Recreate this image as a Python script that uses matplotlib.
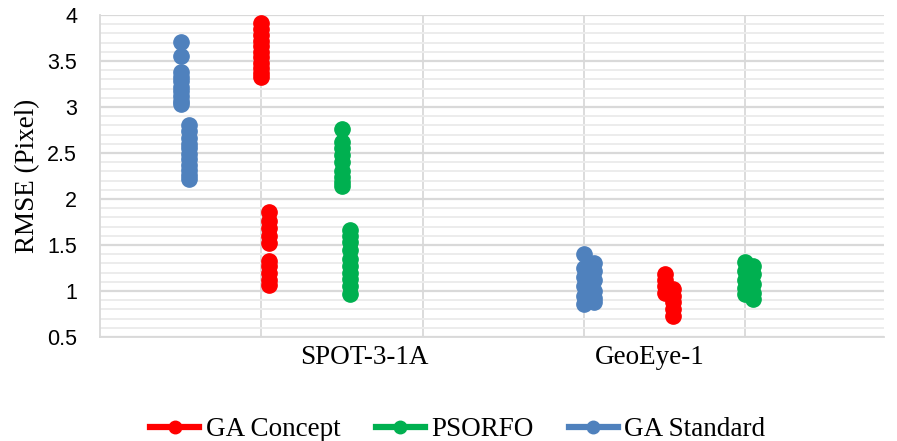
import matplotlib
matplotlib.use("Agg")
import matplotlib.pyplot as plt
from matplotlib.lines import Line2D
from matplotlib.ticker import MultipleLocator

# ---- data ----
categories = ["SPOT-3-1A", "GeoEye-1"]
category_label_x = [1.64, 3.41]

series_names = ["GA Concept", "PSORFO", "GA Standard"]
series_colors = ["#ff0000", "#00b050", "#4f81bd"]

# GA Standard
std_x = [0.50] * 10 + [0.55] * 11 + [3.00] * 6 + [3.06] * 6
std_y = [3.71, 3.55, 3.38, 3.33, 3.28, 3.22, 3.17, 3.12, 3.07, 3.03,
         2.80, 2.74, 2.66, 2.60, 2.55, 2.49, 2.43, 2.37, 2.31, 2.26, 2.22,
         1.40, 1.25, 1.15, 1.05, 0.95, 0.86,
         1.30, 1.22, 1.12, 1.00, 0.92, 0.88]

# GA Concept
con_x = [1.00] * 11 + [1.05] * 10 + [3.50] * 4 + [3.55] * 5
con_y = [3.91, 3.85, 3.78, 3.72, 3.66, 3.60, 3.54, 3.48, 3.42, 3.37, 3.33,
         1.86, 1.76, 1.68, 1.60, 1.52, 1.33, 1.27, 1.20, 1.12, 1.06,
         1.19, 1.12, 1.05, 0.98,
         1.02, 0.95, 0.88, 0.80, 0.73]

# PSORFO
pso_x = [1.50] * 9 + [1.55] * 10 + [4.00] * 5 + [4.05] * 5
pso_y = [2.76, 2.62, 2.55, 2.48, 2.40, 2.30, 2.24, 2.18, 2.14,
         1.66, 1.60, 1.53, 1.45, 1.35, 1.27, 1.20, 1.13, 1.05, 0.97,
         1.31, 1.22, 1.12, 1.03, 0.97,
         1.27, 1.18, 1.08, 0.98, 0.91]

y_ticks = [0.5, 1, 1.5, 2, 2.5, 3, 3.5, 4]
y_tick_labels = ["0.5", "1", "1.5", "2", "2.5", "3", "3.5", "4"]

# ---- figure ----
fig = plt.figure(figsize=(8.97, 4.41), dpi=100)
ax = fig.add_axes([100 / 897, (441 - 337) / 441, (884 - 100) / 897, (337 - 15) / 441])

ax.set_xlim(0, 4.86)
ax.set_ylim(0.5, 4)

# grid
ax.yaxis.set_minor_locator(MultipleLocator(0.1))
ax.set_yticks(y_ticks)
ax.set_yticklabels(y_tick_labels, family="Liberation Sans", fontsize=15.5)
ax.set_xticks([1, 2, 3, 4])
ax.set_xticklabels([])
ax.grid(which="major", axis="y", color="#d9d9d9", linewidth=1.6, zorder=0)
ax.grid(which="minor", axis="y", color="#ececec", linewidth=1.4, zorder=0)
ax.grid(which="major", axis="x", color="#d9d9d9", linewidth=1.3, zorder=0)
ax.tick_params(axis="both", which="both", length=0)
ax.tick_params(axis="y", pad=16.5)
ax.set_axisbelow(True)
for s in ["top", "right"]:
    ax.spines[s].set_visible(False)
for s in ["left", "bottom"]:
    ax.spines[s].set_color("#d9d9d9")
    ax.spines[s].set_linewidth(1.3)

ms = 11
ax.plot(std_x, std_y, "o", color=series_colors[2], markersize=ms, zorder=3)
ax.plot(con_x, con_y, "o", color=series_colors[0], markersize=ms, zorder=3)
ax.plot(pso_x, pso_y, "o", color=series_colors[1], markersize=ms, zorder=3)

for lab, xx in zip(categories, category_label_x):
    ax.text(xx, -0.064, lab, transform=ax.get_xaxis_transform(), ha="center", va="center",
            family="Liberation Serif", fontsize=19.5)

ax.set_ylabel("RMSE (Pixel)", family="Liberation Serif", fontsize=19.5, labelpad=5)

handles = [Line2D([0], [0], color=c, linewidth=4.5, marker="o", markersize=9)
           for c in series_colors]
fig.legend(handles, series_names, loc="center", bbox_to_anchor=(458 / 897, 1 - 430 / 441),
           ncol=3, frameon=False, prop={"family": "Liberation Serif", "size": 19.5},
           handlelength=1.8, columnspacing=1.3, handletextpad=0.25)

fig.savefig("out.png", dpi=100)
